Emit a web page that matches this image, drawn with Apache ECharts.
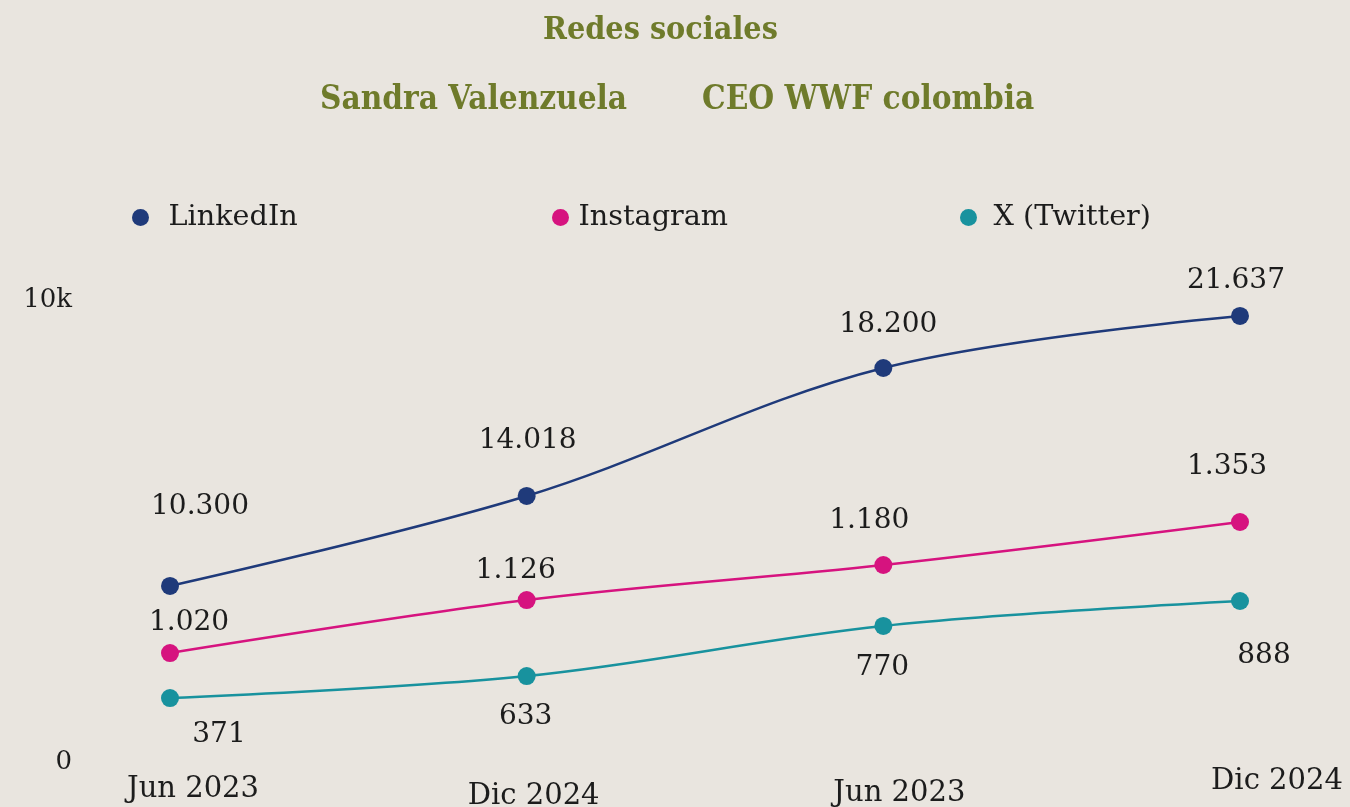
<!DOCTYPE html>
<html>
<head>
<meta charset="utf-8">
<script src="https://cdn.jsdelivr.net/npm/echarts@6/dist/echarts.min.js"></script>
<style>
  html, body { margin: 0; padding: 0; background: #e9e5df; }
  #chart { width: 1350px; height: 807px; }
</style>
</head>
<body>
<div id="chart"></div>
<script>
// periods on the x axis
const periods = ['Jun 2023', 'Dic 2024', 'Jun 2023', 'Dic 2024']

// followers shown as labels
const linkedinFollowers = [10300, 14018, 18200, 21637]
const instagramFollowers = [1020, 1126, 1180, 1353]
const twitterFollowers = [371, 633, 770, 888]

// height of each point on the 0 - 10k axis, as drawn in the picture
const linkedinLevel = [3810, 5758, 8528, 9654]
const instagramLevel = [2359, 3506, 4264, 5195]
const twitterLevel = [1385, 1861, 2944, 3485]

// y axis tick labels
const yTicks = { 0: '0', 10000: '10k' }

const serif = '"DejaVu Serif", "Liberation Serif", serif'
const titleFont = '"DejaVu Serif Condensed", "DejaVu Serif", serif'
const ink = '#1c1c1c'
const olive = '#6f7b2b'

// label nudges per point, [dx, dy]
const linkedinNudge = [[30, -51], [1, -27], [5, -15], [-4, -7]]
const instagramNudge = [[19, -2], [-11, -1], [-14, -16], [-13, -27]]
const twitterNudge = [[49, 9], [-1, 13], [-1, 14], [24, 27]]

const fmt = v => v.toLocaleString('de-DE')

function makeSeries(name, color, levels, followers, nudge, pos) {
  return {
    name: name,
    type: 'line',
    smooth: 0.35,
    symbol: 'circle',
    symbolSize: 18,
    lineStyle: { color: color, width: 2.5 },
    itemStyle: { color: color },
    data: levels.map((v, i) => ({
      value: v,
      label: { offset: nudge[i], formatter: fmt(followers[i]) }
    })),
    label: {
      show: true,
      position: pos,
      distance: 5,
      fontFamily: serif,
      fontSize: 28,
      color: ink
    }
  }
}

const chart = echarts.init(document.getElementById('chart'))

const legendBase = {
  top: 198,
  icon: 'circle',
  itemHeight: 17,
  textStyle: { fontFamily: serif, fontSize: 28.7, color: ink }
}

const titleStyle = { fontFamily: titleFont, fontWeight: 'bold', color: olive }

chart.setOption({
  backgroundColor: '#e9e5df',
  animation: false,
  title: [
    {
      text: 'Redes sociales',
      left: 538,
      top: 10,
      textStyle: Object.assign({ fontSize: 32 }, titleStyle)
    },
    {
      text: 'Sandra Valenzuela',
      left: 315,
      top: 79,
      textStyle: Object.assign({ fontSize: 33 }, titleStyle)
    },
    {
      text: 'CEO WWF colombia',
      left: 697,
      top: 79,
      textStyle: Object.assign({ fontSize: 33 }, titleStyle)
    }
  ],
  legend: [
    Object.assign({}, legendBase, { left: 127, itemWidth: 46, data: ['LinkedIn'] }),
    Object.assign({}, legendBase, { left: 547, itemWidth: 26, data: ['Instagram'] }),
    Object.assign({}, legendBase, { left: 955, itemWidth: 40, data: ['X (Twitter)'] })
  ],
  grid: { left: 170, right: 110, top: 300, bottom: 45, outerBoundsMode: 'none', containLabel: false },
  xAxis: {
    type: 'category',
    boundaryGap: false,
    data: periods,
    axisLine: { show: false },
    axisTick: { show: false },
    splitLine: { show: false },
    axisLabel: {
      margin: 5,
      interval: 0,
      formatter: (v, i) => '{p' + i + '|' + v + '}',
      rich: {
        p0: { fontFamily: serif, fontSize: 29, color: ink, padding: [8, 0, 0, 46] },
        p1: { fontFamily: serif, fontSize: 29, color: ink, padding: [15, 0, 0, 14] },
        p2: { fontFamily: serif, fontSize: 29, color: ink, padding: [12, 0, 0, 32] },
        p3: { fontFamily: serif, fontSize: 29, color: ink, padding: [0, 0, 0, 74] }
      }
    }
  },
  yAxis: {
    type: 'value',
    min: 0,
    max: 10000,
    interval: 10000,
    axisLine: { show: false },
    axisTick: { show: false },
    splitLine: { show: false },
    axisLabel: {
      margin: 98,
      fontFamily: serif,
      fontSize: 26,
      color: ink,
      formatter: v => yTicks[v]
    }
  },
  series: [
    makeSeries('LinkedIn', '#1f3a7a', linkedinLevel, linkedinFollowers, linkedinNudge, 'top'),
    makeSeries('Instagram', '#d6137f', instagramLevel, instagramFollowers, instagramNudge, 'top'),
    makeSeries('X (Twitter)', '#18929e', twitterLevel, twitterFollowers, twitterNudge, 'bottom')
  ]
})
</script>
</body>
</html>
